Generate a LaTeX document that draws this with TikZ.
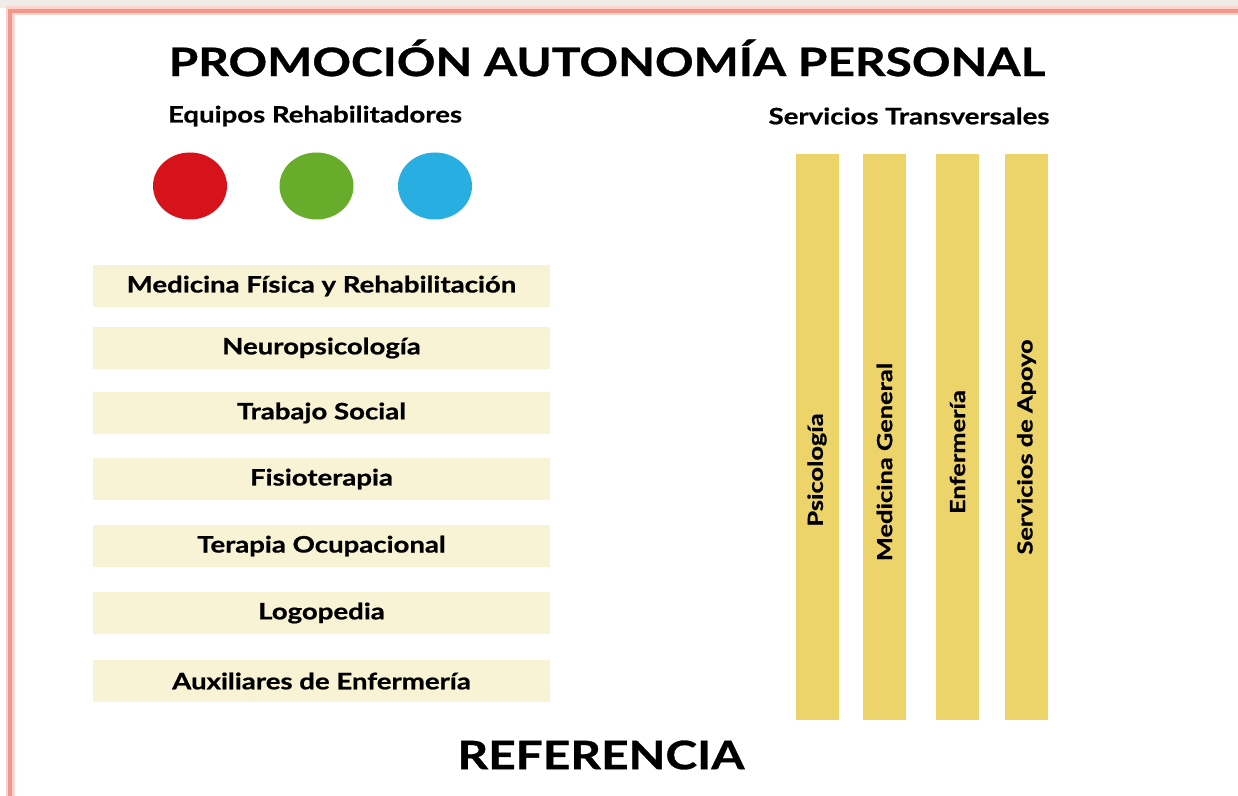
\documentclass[tikz,border=0pt]{standalone}
\usepackage{fontspec}
\setmainfont[FakeStretch=1.22, BoldFeatures={FakeBold=0.8}]{Lato}
\usetikzlibrary{positioning, shapes.geometric}
\definecolor{FrameSalmon}{RGB}{242, 150, 140}
\definecolor{FrameGlow}{RGB}{251, 212, 206}
\definecolor{TopGray}{RGB}{240, 237, 232}
\definecolor{TeamRed}{RGB}{214, 18, 26}
\definecolor{TeamGreen}{RGB}{103, 173, 43}
\definecolor{TeamBlue}{RGB}{41, 174, 226}
\definecolor{RowCream}{RGB}{248, 243, 212}
\definecolor{BarGold}{RGB}{237, 212, 106}

\tikzset{
  teamdot/.style={ellipse, minimum width=37pt, minimum height=33.5pt, inner sep=0pt},
  rowbox/.style={fill=RowCream, minimum width=228.5pt, minimum height=21pt, inner sep=0pt,
    font=\bfseries\fontsize{11.3}{13}\selectfont},
  servbar/.style={fill=BarGold, minimum width=21.5pt, minimum height=283pt, inner sep=0pt},
  barlabel/.style={rotate=90, inner sep=0pt, font=\bfseries\fontsize{10.4}{12}\selectfont},
  headline/.style={inner sep=0pt, font=\bfseries\fontsize{11.3}{13}\selectfont}
}

\begin{document}
\begin{tikzpicture}[x=0.5pt, y=-0.5pt]
\useasboundingbox (0,0) rectangle (1238,796);
% page frame
\fill[TopGray] (0,0) rectangle (1238,8);
\draw[FrameGlow, line width=4.5pt] (10,11) rectangle (1260,820);
\draw[FrameSalmon, line width=1.8pt] (10,11) rectangle (1260,820);

% headings
\node[inner sep=0pt, font=\bfseries\fontsize{19.6}{22}\selectfont] (title) at (607,58) {PROMOCIÓN AUTONOMÍA PERSONAL};
\node[headline] (equipos) at (315,116) {Equipos Rehabilitadores};
\node[headline] (servicios) at (909,116) {Servicios Transversales};

% equipos
\node[teamdot, fill=TeamRed] (red) at (190,186) {};
\node[teamdot, fill=TeamGreen] (green) at (316.5,186) {};
\node[teamdot, fill=TeamBlue] (blue) at (435,186) {};

\foreach \y/\name/\txt in {286/row1/Medicina Física y Rehabilitación, 348/row2/Neuropsicología,
  413/row3/Trabajo Social, 479/row4/Fisioterapia, 546/row5/Terapia Ocupacional,
  613/row6/Logopedia, 681/row7/Auxiliares de Enfermería}
  \node[rowbox] (\name) at (321.5,\y) {\txt};

% servicios transversales
\foreach \x/\name in {817.5/bar1, 884.5/bar2, 957.5/bar3, 1026.5/bar4}
  \node[servbar] (\name) at (\x,437) {};
\node[barlabel] (psico) at (817,470) {Psicología};
\node[barlabel] (medgen) at (884.5,462) {Medicina General};
\node[barlabel] (enfer) at (957.5,452) {Enfermería};
\node[barlabel] (apoyo) at (1026.5,447) {Servicios de Apoyo};

\node[inner sep=0pt, font=\bfseries\fontsize{19.6}{22}\selectfont] (ref) at (601,755) {REFERENCIA};
\end{tikzpicture}
\end{document}
